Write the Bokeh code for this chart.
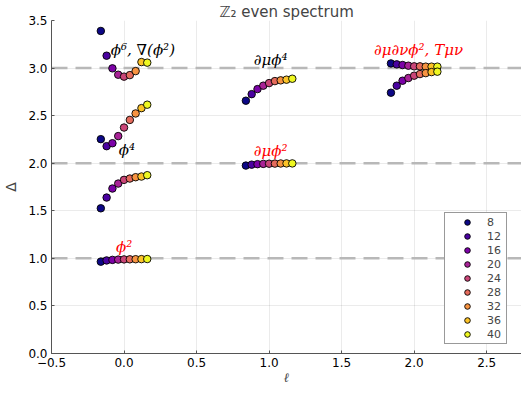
from bokeh.plotting import figure
from bokeh.models import ColumnDataSource, Span, Legend, LegendItem, FixedTicker
from bokeh.transform import dodge
from bokeh.palettes import Plasma256, linear_palette
from bokeh.core.properties import value
from bokeh.embed import file_html
from bokeh.resources import INLINE

# ---------------- data ----------------
N_values = [8, 12, 16, 20, 24, 28, 32, 36, 40]
dodge_step = 0.04

# each state: spin ell and Delta for N = 8 ... 40
ell_phi2 = 0
delta_phi2 = [0.965, 0.978, 0.984, 0.987, 0.989, 0.990, 0.991, 0.992, 0.993]
ell_phi4 = 0
delta_phi4 = [1.526, 1.639, 1.734, 1.786, 1.825, 1.839, 1.853, 1.860, 1.874]
ell_s2 = 0
delta_s2 = [2.253, 2.179, 2.210, 2.285, 2.375, 2.455, 2.523, 2.579, 2.615]
ell_phi6 = 0
delta_phi6 = [3.390, 3.130, 2.997, 2.930, 2.910, 2.926, 2.968, 3.063, 3.057]
ell_dphi2 = 1
delta_dphi2 = [1.975, 1.985, 1.990, 1.993, 1.995, 1.996, 1.997, 1.998, 1.998]
ell_dphi4 = 1
delta_dphi4 = [2.657, 2.726, 2.779, 2.815, 2.842, 2.863, 2.871, 2.878, 2.888]
ell_T = 2
delta_T = [3.049, 3.039, 3.032, 3.025, 3.018, 3.018, 3.015, 3.015, 3.015]
ell_ddphi2 = 2
delta_ddphi2 = [2.741, 2.815, 2.867, 2.895, 2.920, 2.937, 2.947, 2.958, 2.962]

states = [
    (ell_phi2, delta_phi2), (ell_phi4, delta_phi4), (ell_s2, delta_s2),
    (ell_phi6, delta_phi6), (ell_dphi2, delta_dphi2), (ell_dphi4, delta_dphi4),
    (ell_T, delta_T), (ell_ddphi2, delta_ddphi2),
]

ref_levels = [1.0, 2.0, 3.0]

ann_x = [0.13, 0.02, 0.0, 1.01, 1.01, 2.03]
ann_y = [3.19, 2.135, 1.115, 3.08, 2.13, 3.19]
ann_text = ["ϕ⁶, ∇(ϕ²)", "ϕ⁴", "ϕ²", "∂μϕ⁴", "∂μϕ²", "∂μ∂νϕ², Tμν"]
ann_color = ["black", "black", "red", "black", "red", "red"]

x_ticks = [-0.5, 0.0, 0.5, 1.0, 1.5, 2.0, 2.5]
x_tick_labels = ["−0.5", "0.0", "0.5", "1.0", "1.5", "2.0", "2.5"]
y_ticks = [0.0, 0.5, 1.0, 1.5, 2.0, 2.5, 3.0, 3.5]
y_tick_labels = ["0.0", "0.5", "1.0", "1.5", "2.0", "2.5", "3.0", "3.5"]

# ---------------- figure ----------------
colors = linear_palette(Plasma256, len(N_values))

p = figure(frame_width=470, frame_height=333, x_range=(-0.5, 2.74), y_range=(0, 3.5),
           output_backend="svg", toolbar_location=None, title="ℤ₂ even spectrum",
           min_border_left=43, min_border_right=0, min_border_top=13, min_border_bottom=0)
p.outline_line_color = None
p.background_fill_color = "white"
p.title.text_font = "DejaVu Sans"
p.title.text_font_size = "15px"
p.title.text_font_style = "normal"
p.title.align = "center"
p.title.standoff = 0

for lvl in ref_levels:
    p.add_layout(Span(location=lvl, dimension="width", line_color="#b8b8b8",
                      line_width=2.5, line_dash="16 8", level="underlay"))

items = []
for i, n in enumerate(N_values):
    src = ColumnDataSource(dict(ell=[s[0] for s in states], delta=[s[1][i] for s in states]))
    r = p.scatter(x=dodge("ell", (i - 4) * dodge_step, range=p.x_range), y="delta",
                  source=src, size=7.5, fill_color=colors[i], line_color="black",
                  line_width=0.9)
    items.append(LegendItem(label=str(n), renderers=[r]))

ann_src = ColumnDataSource(dict(x=ann_x, y=ann_y, text=ann_text, color=ann_color))
p.text(x="x", y="y", text="text", source=ann_src, text_color="color",
       text_font=value("DejaVu Serif"), text_font_style="italic",
       text_font_size="15px", text_align="center", text_baseline="middle")

legend = Legend(items=items, location=(393, 9), padding=2, glyph_width=40,
                glyph_height=14, label_height=14, spacing=0, label_standoff=0,
                label_width=17, label_text_font_size="11px",
                label_text_font="DejaVu Sans", border_line_color="#333333",
                border_line_width=1, background_fill_alpha=1.0, margin=0)
p.add_layout(legend, "center")

for ax, ticks, labels in ((p.xaxis[0], x_ticks, x_tick_labels), (p.yaxis[0], y_ticks, y_tick_labels)):
    ax.ticker = FixedTicker(ticks=ticks)
    ax.major_label_overrides = {t: l for t, l in zip(ticks, labels)}
    ax.major_label_text_font = "DejaVu Sans"
    ax.major_label_text_font_size = "12px"
    ax.major_label_text_color = "black"
    ax.axis_line_color = "#555555"
    ax.major_tick_line_color = "#555555"
    ax.major_tick_in = 3
    ax.major_tick_out = 0
    ax.minor_tick_line_color = None

p.xaxis.axis_label = "ℓ"
p.xaxis.axis_label_text_font = "DejaVu Serif"
p.xaxis.axis_label_text_font_style = "italic"
p.xaxis.axis_label_text_font_size = "13px"
p.xaxis.axis_label_standoff = 0
p.xaxis.major_label_standoff = 4

p.yaxis.axis_label = "Δ"
p.yaxis.axis_label_text_font = "DejaVu Sans"
p.yaxis.axis_label_text_font_style = "normal"
p.yaxis.axis_label_text_font_size = "14px"
p.yaxis.axis_label_standoff = 6
p.yaxis.major_label_standoff = 4

p.xgrid.ticker = FixedTicker(ticks=x_ticks)
p.ygrid.ticker = FixedTicker(ticks=y_ticks)
p.grid.grid_line_color = "black"
p.grid.grid_line_alpha = 0.08

open("out.html", "w").write(file_html(p, INLINE))
